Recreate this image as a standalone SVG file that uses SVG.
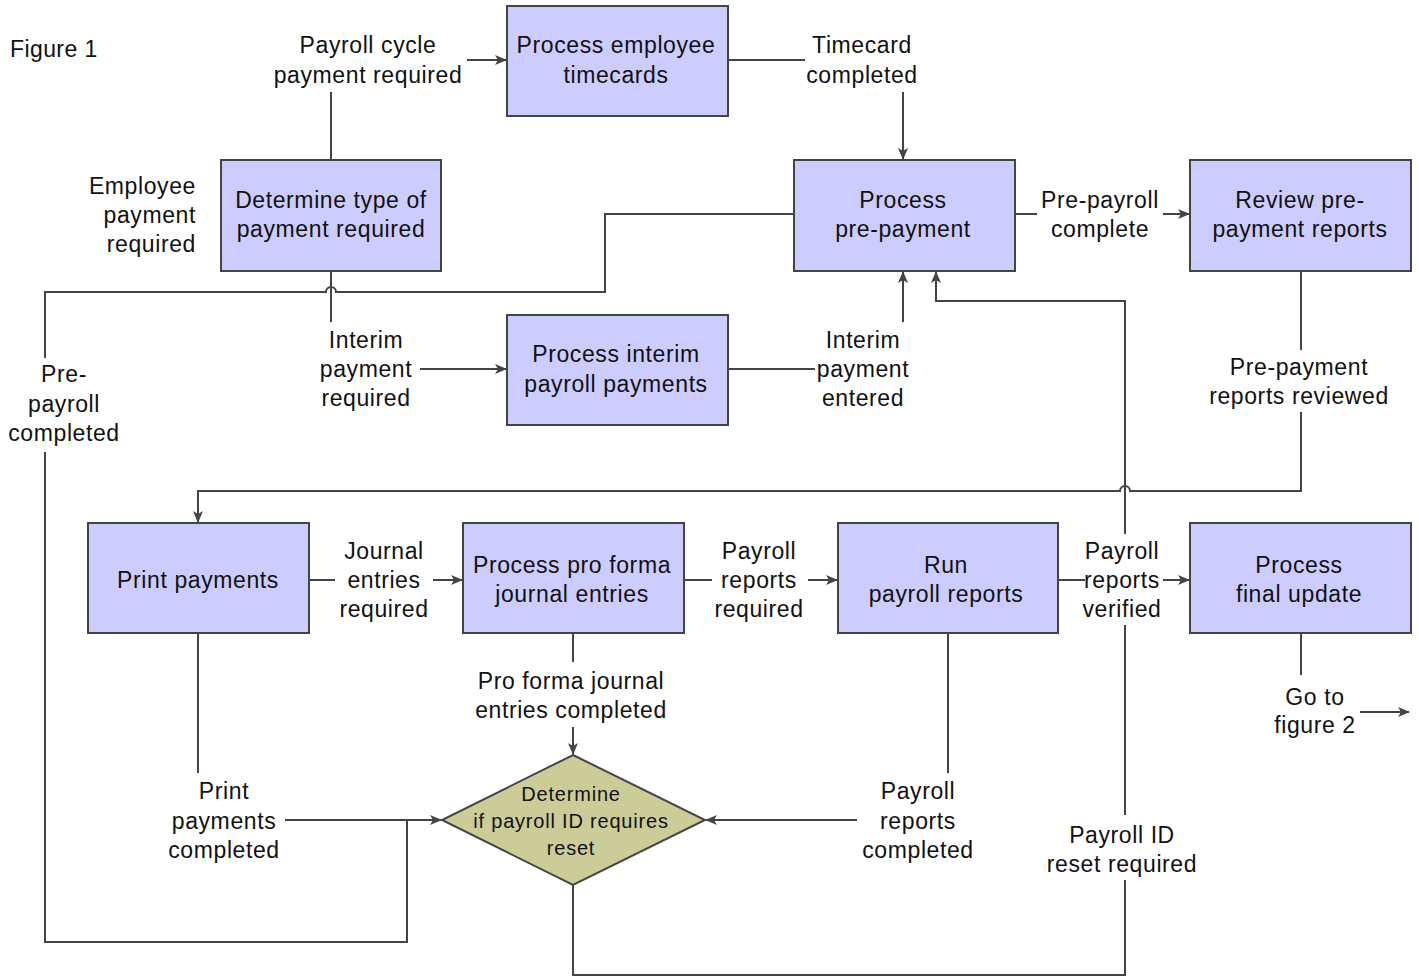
<svg xmlns="http://www.w3.org/2000/svg" width="1419" height="976" viewBox="0 0 1419 976">
  <defs>
    <marker id="arrow" viewBox="0 0 12 10" refX="11" refY="5" markerWidth="12" markerHeight="10" markerUnits="userSpaceOnUse" orient="auto">
      <path d="M0,0 L12,5 L0,10 L3,5 z" fill="#444"/>
    </marker>
    <style>
      text { font-family: "Liberation Sans", Arial, sans-serif; font-size: 23px; letter-spacing: 0.6px; fill: #111; text-anchor: middle; }
      .box { fill: #ccccff; stroke: #444; stroke-width: 2; }
      .dec { fill: #cccc99; stroke: #444; stroke-width: 2; }
      .dec-text { font-size: 20px; letter-spacing: 0.8px; }
      .line { fill: none; stroke: #444; stroke-width: 2; }
      .arr { fill: none; stroke: #444; stroke-width: 2; marker-end: url(#arrow); }
      .left { text-anchor: start; }
      .right { text-anchor: end; }
    </style>
  </defs>
  <rect width="1419" height="976" fill="#ffffff"/>

  <text class="left" x="10" y="57" style="letter-spacing:0.4px">Figure 1</text>

  <!-- connectors -->
  <g id="connectors">
    <!-- determine type -> timecards -->
    <path class="line" d="M331,160 V92"/>
    <path class="arr" d="M467,60 H506"/>
    <!-- timecards -> pre-payment -->
    <path class="line" d="M728,60 H805"/>
    <path class="arr" d="M903,92 V159"/>
    <!-- pre-payment -> diamond (pre-payroll completed) -->
    <path class="line" d="M793,214 H605 V292 H336 A5,5 0 0 0 326,292 H45 V358"/>
    <path class="line" d="M45,452 V942 H407 V820"/>
    <!-- print payments -> diamond -->
    <path class="line" d="M198,633 V773"/>
    <path class="arr" d="M285,820 H441"/>
    <!-- determine type -> interim payments -->
    <path class="line" d="M331,271 V322"/>
    <path class="arr" d="M420,369 H506"/>
    <!-- interim payments -> pre-payment -->
    <path class="line" d="M728,369 H815"/>
    <path class="arr" d="M903,322 V272"/>
    <!-- diamond -> pre-payment (payroll ID reset required) -->
    <path class="line" d="M573,885 V975 H1125 V880"/>
    <path class="line" d="M1125,815 V625"/>
    <path class="arr" d="M1125,534 V301 H936 V272"/>
    <!-- pre-payment -> review -->
    <path class="line" d="M1015,214 H1037"/>
    <path class="arr" d="M1163,214 H1189"/>
    <!-- review -> print payments -->
    <path class="line" d="M1301,271 V350"/>
    <path class="arr" d="M1301,412 V491 H1130 A5,5 0 0 0 1120,491 H198 V522"/>
    <!-- print -> pro forma -->
    <path class="line" d="M309,580 H335"/>
    <path class="arr" d="M433,580 H462"/>
    <!-- pro forma -> run reports -->
    <path class="line" d="M684,580 H712"/>
    <path class="arr" d="M808,580 H837"/>
    <!-- pro forma -> diamond -->
    <path class="line" d="M573,633 V662"/>
    <path class="arr" d="M573,727 V754"/>
    <!-- run reports -> diamond -->
    <path class="line" d="M948,633 V773"/>
    <path class="arr" d="M857,820 H706"/>
    <!-- run reports -> final update -->
    <path class="line" d="M1058,580 H1085"/>
    <path class="arr" d="M1163,580 H1189"/>
    <!-- final update -> figure 2 -->
    <path class="line" d="M1301,633 V675"/>
    <path class="arr" d="M1360,712 H1409"/>
  </g>

  <!-- connector labels -->
  <g id="labels">
    <text x="368" y="53">Payroll cycle</text>
    <text x="368" y="83">payment required</text>
    <text x="862" y="53">Timecard</text>
    <text x="862" y="83">completed</text>
    <text class="right" x="196" y="194">Employee</text>
    <text class="right" x="196" y="223">payment</text>
    <text class="right" x="196" y="252">required</text>
    <text x="1100" y="208">Pre-payroll</text>
    <text x="1100" y="237">complete</text>
    <text x="366" y="348">Interim</text>
    <text x="366" y="377">payment</text>
    <text x="366" y="406">required</text>
    <text x="863" y="348">Interim</text>
    <text x="863" y="377">payment</text>
    <text x="863" y="406">entered</text>
    <text x="64" y="382">Pre-</text>
    <text x="64" y="412">payroll</text>
    <text x="64" y="441">completed</text>
    <text x="1299" y="375">Pre-payment</text>
    <text x="1299" y="404">reports reviewed</text>
    <text x="384" y="559">Journal</text>
    <text x="384" y="588">entries</text>
    <text x="384" y="617">required</text>
    <text x="759" y="559">Payroll</text>
    <text x="759" y="588">reports</text>
    <text x="759" y="617">required</text>
    <text x="1122" y="559">Payroll</text>
    <text x="1122" y="588">reports</text>
    <text x="1122" y="617">verified</text>
    <text x="571" y="689">Pro forma journal</text>
    <text x="571" y="718">entries completed</text>
    <text x="1315" y="705">Go to</text>
    <text x="1315" y="733">figure 2</text>
    <text x="224" y="799">Print</text>
    <text x="224" y="829">payments</text>
    <text x="224" y="858">completed</text>
    <text x="918" y="799">Payroll</text>
    <text x="918" y="829">reports</text>
    <text x="918" y="858">completed</text>
    <text x="1122" y="843">Payroll ID</text>
    <text x="1122" y="872">reset required</text>
  </g>

  <!-- nodes -->
  <g id="node-timecards">
    <rect class="box" x="507" y="6" width="221" height="110"/>
    <text x="616" y="53">Process employee</text>
    <text x="616" y="83">timecards</text>
  </g>
  <g id="node-determine-type">
    <rect class="box" x="221" y="160" width="220" height="111"/>
    <text x="331" y="208">Determine type of</text>
    <text x="331" y="237">payment required</text>
  </g>
  <g id="node-pre-payment">
    <rect class="box" x="794" y="160" width="221" height="111"/>
    <text x="903" y="208">Process</text>
    <text x="903" y="237">pre-payment</text>
  </g>
  <g id="node-review">
    <rect class="box" x="1190" y="160" width="221" height="111"/>
    <text x="1300" y="208">Review pre-</text>
    <text x="1300" y="237">payment reports</text>
  </g>
  <g id="node-interim">
    <rect class="box" x="507" y="315" width="221" height="110"/>
    <text x="616" y="362">Process interim</text>
    <text x="616" y="392">payroll payments</text>
  </g>
  <g id="node-print">
    <rect class="box" x="88" y="523" width="221" height="110"/>
    <text x="198" y="588">Print payments</text>
  </g>
  <g id="node-pro-forma">
    <rect class="box" x="463" y="523" width="221" height="110"/>
    <text x="572" y="573">Process pro forma</text>
    <text x="572" y="602">journal entries</text>
  </g>
  <g id="node-run-reports">
    <rect class="box" x="838" y="523" width="220" height="110"/>
    <text x="946" y="573">Run</text>
    <text x="946" y="602">payroll reports</text>
  </g>
  <g id="node-final-update">
    <rect class="box" x="1190" y="523" width="221" height="110"/>
    <text x="1299" y="573">Process</text>
    <text x="1299" y="602">final update</text>
  </g>
  <g id="node-reset-decision">
    <polygon class="dec" points="573,755 705,820 573,885 442,820"/>
    <text class="dec-text" x="571" y="801">Determine</text>
    <text class="dec-text" x="571" y="828">if payroll ID requires</text>
    <text class="dec-text" x="571" y="855">reset</text>
  </g>
</svg>
